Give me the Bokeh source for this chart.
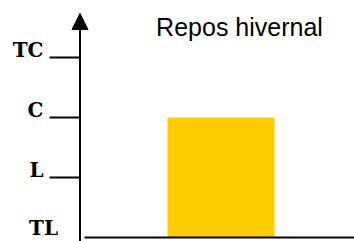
from bokeh.plotting import figure
from bokeh.models import Range1d, Arrow, NormalHead, ColumnDataSource
from bokeh.core.properties import value
from bokeh.embed import file_html
from bokeh.resources import INLINE

# ---- data ----
level_names = ["TL", "L", "C", "TC"]
level_values = [0, 1, 2, 3]
tick_names = ["L", "C", "TC"]
tick_values = [1, 2, 3]
bar_labels = ["Repos hivernal"]
bar_positions = [1]
bar_levels = [2]  # C

# ---- layout (data units) ----
X_START, X_END = -1.06075, 2.24766
Y_START, Y_END = -0.06667, 3.95
AXIS_X = -0.31776
TICK_LEFT = -0.6028
XAXIS_LEFT = -0.2757
ARROW_TIP = 3.7333
TITLE_X, TITLE_Y = 1.1729, 3.5

p = figure(width=354, height=241, output_backend="svg", toolbar_location=None,
           x_range=Range1d(X_START, X_END), y_range=Range1d(Y_START, Y_END),
           min_border=0, outline_line_color=None, tools="")
p.axis.visible = False
p.grid.visible = False
p.background_fill_color = "white"
p.border_fill_color = "white"

# bar
p.vbar(x=bar_positions, width=1, top=bar_levels, bottom=0,
       fill_color="#FFCC00", line_color=None)

# x axis line
p.segment(x0=[XAXIS_LEFT], y0=[0], x1=[X_END], y1=[0], line_color="black", line_width=2)

# y axis with arrow
p.add_layout(Arrow(end=NormalHead(size=16, fill_color="black", line_color="black", line_width=1),
                   x_start=AXIS_X, y_start=Y_START, x_end=AXIS_X, y_end=ARROW_TIP,
                   line_color="black", line_width=2))

LABEL_FONT = value("DejaVu Serif")

# ticks
src = ColumnDataSource(dict(y=tick_values, name=tick_names,
                            x0=[TICK_LEFT] * len(tick_values), x1=[AXIS_X] * len(tick_values)))
p.segment(x0="x0", y0="y", x1="x1", y1="y", source=src, line_color="black", line_width=2)
p.text(x="x0", y="y", text="name", source=src, text_align="right", text_baseline="middle",
       x_offset=-6, y_offset=-7, text_font=LABEL_FONT, text_font_style="bold",
       text_font_size="20px", text_color="black")

# bottom level label
p.text(x=[AXIS_X], y=[level_values[0]], text=[level_names[0]], text_align="right",
       text_baseline="middle", x_offset=-22, y_offset=-9,
       text_font=LABEL_FONT, text_font_style="bold",
       text_font_size="20px", text_color="black")

# title
p.text(x=[TITLE_X], y=[TITLE_Y], text=bar_labels, text_align="center",
       text_baseline="alphabetic", text_font=value("Liberation Sans"),
       text_font_size="25px", text_color="black")

open("out.html", "w").write(file_html(p, INLINE))
